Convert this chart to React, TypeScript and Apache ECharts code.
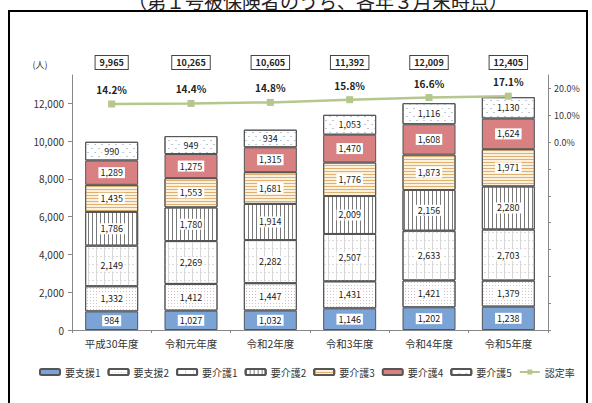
import React, { useEffect, useRef } from 'react';
import * as echarts from 'echarts';

const categories = ['平成30年度', '令和元年度', '令和2年度', '令和3年度', '令和4年度', '令和5年度'];
const youShien1 = [984, 1027, 1032, 1146, 1202, 1238];
const youShien2 = [1332, 1412, 1447, 1431, 1421, 1379];
const youKaigo1 = [2149, 2269, 2282, 2507, 2633, 2703];
const youKaigo2 = [1786, 1780, 1914, 2009, 2156, 2280];
const youKaigo3 = [1435, 1553, 1681, 1776, 1873, 1971];
const youKaigo4 = [1289, 1275, 1315, 1470, 1608, 1624];
const youKaigo5 = [990, 949, 934, 1053, 1116, 1130];
const totals = [9965, 10265, 10605, 11392, 12009, 12405];
const ninteiRate = [14.2, 14.4, 14.8, 15.8, 16.6, 17.1];
const leftTicks = [0, 2000, 4000, 6000, 8000, 10000, 12000];
const rightLabelTicks = [0, 10, 20];
const rightTicks = [-70, -60, -50, -40, -30, -20, -10, 0, 10, 20];

const FONT = "'Noto Sans CJK JP', 'Noto Sans', sans-serif";
const fmt = (v: number) => v.toLocaleString('en-US');

export default function App() {
  const ref = useRef<HTMLDivElement>(null);
  useEffect(() => {
    if (!ref.current) return;
    const chart = echarts.init(ref.current, undefined, { renderer: 'svg' });

    const barLabel = {
      show: true,
      position: 'inside',
      formatter: (p: any) => fmt(p.value),
      backgroundColor: '#fff',
      padding: [1, 2],
      color: '#1a1a1a',
      fontSize: 9,
      fontFamily: FONT,
    };
    const border = { borderColor: '#555', borderWidth: 1 };

    const barSeries = [
      { name: '要支援1', data: youShien1, itemStyle: { color: '#7ba3d6', ...border } },
      {
        name: '要支援2', data: youShien2,
        itemStyle: {
          color: '#fff', ...border,
          decal: { symbol: 'rect', symbolSize: 1, color: '#d2c2c2', dashArrayX: [1, 2], dashArrayY: [1, 2] },
        },
      },
      {
        name: '要介護1', data: youKaigo1,
        itemStyle: {
          color: '#fff', ...border,
          decal: { symbol: 'rect', symbolSize: 1, color: '#d9d9d9', dashArrayX: [[2, 2], [1, 7]], dashArrayY: [1, 0, 7, 0] },
        },
      },
      {
        name: '要介護2', data: youKaigo2,
        itemStyle: {
          color: '#fff', ...border,
          decal: { symbol: 'rect', symbolSize: 1, color: '#7a7a7a', dashArrayX: [1, 2.5], dashArrayY: [1, 0] },
        },
      },
      {
        name: '要介護3', data: youKaigo3,
        itemStyle: {
          color: '#fbf1dc', ...border,
          decal: { symbol: 'rect', symbolSize: 1, color: '#deb172', dashArrayX: [1, 0], dashArrayY: [1, 2] },
        },
      },
      { name: '要介護4', data: youKaigo4, itemStyle: { color: '#d98082', ...border } },
      {
        name: '要介護5', data: youKaigo5,
        itemStyle: {
          color: '#fff', ...border,
          decal: { symbol: 'rect', symbolSize: 1, color: '#bcc8d4', dashArrayX: [[2, 5], [0, 3, 2, 2]], dashArrayY: [1, 3] },
        },
      },
    ].map((s) => ({
      ...s,
      type: 'bar',
      stack: 'total',
      barWidth: 53,
      xAxisIndex: 0,
      yAxisIndex: 0,
      label: barLabel,
    }));

    const option: any = {
      animation: false,
      textStyle: { fontFamily: FONT },
      graphic: [
        {
          type: 'rect',
          shape: { x: 9, y: 11, width: 578, height: 400 },
          style: { fill: 'none', stroke: '#000', lineWidth: 2 },
          silent: true,
        },
        {
          type: 'text',
          x: 318,
          y: 0,
          style: {
            text: '（第１号被保険者のうち、各年３月末時点）',
            fontSize: 19,
            fontFamily: FONT,
            fill: '#222',
            align: 'center',
            verticalAlign: 'middle',
          },
        },
        {
          type: 'text',
          x: 40,
          y: 64,
          style: {
            text: '(人)',
            fontSize: 9,
            fontFamily: FONT,
            fill: '#333',
            align: 'center',
            verticalAlign: 'middle',
          },
        },
      ],
      grid: { left: 72, right: 44, top: 75, bottom: 73 },
      legend: {
        left: 34,
        top: 362,
        itemWidth: 20,
        itemHeight: 6,
        itemGap: 7,
        textStyle: { fontSize: 10, color: '#333', fontFamily: FONT },
        data: ['要支援1', '要支援2', '要介護1', '要介護2', '要介護3', '要介護4', '要介護5', '認定率'],
      },
      xAxis: [
        {
          type: 'category',
          data: categories,
          position: 'bottom',
          axisLine: { lineStyle: { color: '#888' } },
          axisTick: { show: true, length: 3, lineStyle: { color: '#888' } },
          axisLabel: { fontSize: 10.5, color: '#333', margin: 8, fontFamily: FONT },
        },
        {
          type: 'category',
          data: categories,
          position: 'top',
          axisLine: { show: false },
          axisTick: { show: false },
          axisLabel: {
            formatter: (_v: string, i: number) => fmt(totals[i]),
            fontSize: 9,
            fontWeight: 'bold',
            color: '#222',
            borderColor: '#444',
            borderWidth: 1,
            backgroundColor: '#fff',
            padding: [2, 4],
            margin: 6,
            fontFamily: FONT,
          },
        },
      ],
      yAxis: [
        {
          type: 'value',
          min: 0,
          max: 13500,
          splitLine: { show: false },
          axisLine: { show: true, lineStyle: { color: '#888' } },
          axisTick: { show: true, length: 4, customValues: leftTicks, lineStyle: { color: '#888' } },
          axisLabel: {
            customValues: leftTicks,
            formatter: (v: number) => fmt(v),
            fontSize: 10,
            color: '#333',
            margin: 8,
            fontFamily: FONT,
          },
        },
        {
          type: 'value',
          min: -70,
          max: 25,
          position: 'right',
          splitLine: { show: false },
          axisLine: { show: true, lineStyle: { color: '#888' } },
          axisTick: { show: true, length: 3, customValues: rightTicks, lineStyle: { color: '#888' } },
          axisLabel: {
            customValues: rightLabelTicks,
            formatter: (v: number) => `${v.toFixed(1)}%`,
            fontSize: 9,
            color: '#333',
            margin: 6,
            fontFamily: FONT,
          },
        },
      ],
      series: [
        ...barSeries,
        {
          name: '認定率',
          type: 'line',
          xAxisIndex: 0,
          yAxisIndex: 1,
          data: ninteiRate,
          symbol: 'rect',
          symbolSize: 7,
          z: 10,
          lineStyle: { color: '#b5c78c', width: 2.5 },
          itemStyle: { color: '#b5c78c' },
          label: {
            show: true,
            position: 'top',
            distance: 6,
            formatter: (p: any) => `${p.value.toFixed(1)}%`,
            fontSize: 10,
            fontWeight: 'bold',
            color: '#222',
            fontFamily: FONT,
          },
        },
      ],
    };

    chart.setOption(option);
    return () => chart.dispose();
  }, []);

  return (
    <div
      ref={ref}
      style={{ position: 'fixed', left: 0, top: 0, width: 592, height: 403, background: '#fff' }}
    />
  );
}
